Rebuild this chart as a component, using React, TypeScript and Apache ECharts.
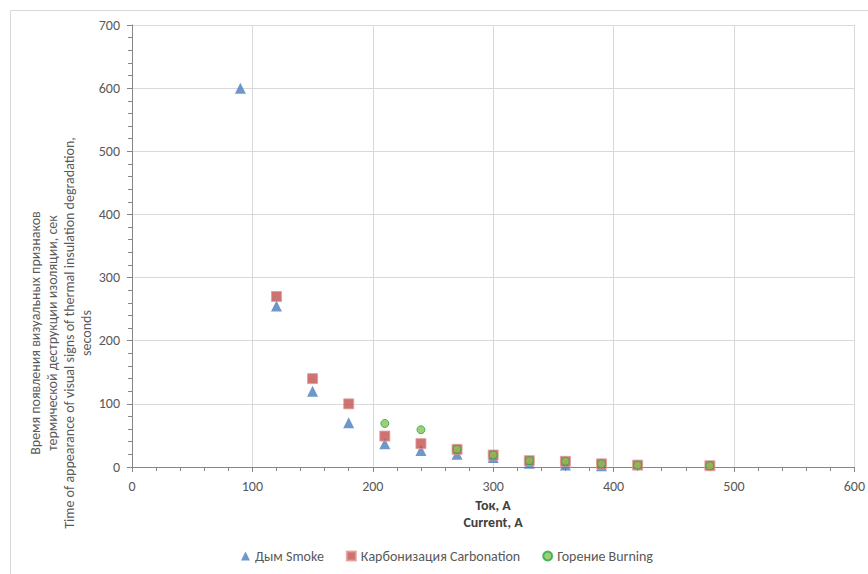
import React, { useEffect, useRef } from "react";
import * as echarts from "echarts";

const currentA = [90, 120, 150, 180, 210, 240, 270, 300, 330, 360, 390, 420, 480];
const smokeX = [90, 120, 150, 180, 210, 240, 270, 300, 330, 360, 390];
const smokeY = [600, 255, 120, 70, 37, 26, 20, 15, 6, 3, 2];
const carbX = [120, 150, 180, 210, 240, 270, 300, 330, 360, 390, 420, 480];
const carbY = [270, 140, 100, 49, 37, 28, 19, 10, 9, 5, 3, 2];
const burnX = [210, 240, 270, 300, 330, 360, 390, 420, 480];
const burnY = [69, 59, 28, 19, 10, 9, 5, 3, 2];

const seriesNames = ["Дым Smoke", "Карбонизация Carbonation", "Горение Burning"];
const xAxisTitle = "Ток, А\nCurrent, A";
const yAxisTitle =
  "Время появления визуальных признаков\nтермической деструкции изоляции, сек\nTime of appearance of visual signs of thermal insulation degradation,\nseconds";

const FONT = 'Carlito, Lato, "Open Sans", sans-serif';
const GRAY = "#595959";

function pairs(xs: number[], ys: number[]) {
  return xs.map((x, i) => [x, ys[i]]);
}

export default function App() {
  const ref = useRef<HTMLDivElement>(null);
  useEffect(() => {
    if (!ref.current) return;
    const chart = echarts.init(ref.current, undefined, { renderer: "svg" });
    void currentA;
    chart.setOption({
      animation: false,
      backgroundColor: "#ffffff",
      textStyle: { fontFamily: FONT },
      grid: { left: 132, right: 13, top: 25, bottom: 107, containLabel: false },
      xAxis: {
        type: "value",
        min: 0,
        max: 600,
        interval: 100,
        axisLine: { show: true, lineStyle: { color: "#868686", width: 1 } },
        axisTick: { show: true, inside: false, length: 5, lineStyle: { color: "#868686" } },
        minorTick: { show: true, splitNumber: 5, length: 4, lineStyle: { color: "#868686" } },
        splitLine: { show: true, lineStyle: { color: "#d9d9d9", width: 1 } },
        axisLabel: { color: GRAY, fontSize: 14, margin: 12, fontFamily: FONT },
      },
      yAxis: {
        type: "value",
        min: 0,
        max: 700,
        interval: 100,
        axisLine: { show: true, lineStyle: { color: "#868686", width: 1 } },
        axisTick: { show: true, inside: false, length: 5, lineStyle: { color: "#868686" } },
        minorTick: { show: true, splitNumber: 5, length: 4, lineStyle: { color: "#868686" } },
        splitLine: { show: true, lineStyle: { color: "#d9d9d9", width: 1 } },
        axisLabel: { color: GRAY, fontSize: 14, margin: 12, fontFamily: FONT },
      },
      legend: {
        bottom: 6,
        left: 236,
        itemWidth: 9,
        itemHeight: 9,
        itemGap: 22,
        textStyle: { color: GRAY, fontSize: 14, fontFamily: FONT },
        data: [
          { name: seriesNames[0], icon: "triangle" },
          { name: seriesNames[1], icon: "rect" },
          { name: seriesNames[2], icon: "circle" },
        ],
      },
      graphic: [
        {
          type: "rect",
          silent: true,
          shape: { x: 10.5, y: 10.5, width: 900, height: 700 },
          style: { fill: "none", stroke: "#d9d9d9", lineWidth: 1 },
          z: -1,
        },
        {
          type: "text",
          x: 493,
          y: 514,
          style: {
            text: xAxisTitle,
            fill: "#404040",
            font: `bold 14px ${FONT}`,
            textAlign: "center",
            textVerticalAlign: "middle",
            lineHeight: 17,
          },
        },
        {
          type: "text",
          x: 61,
          y: 333,
          rotation: Math.PI / 2,
          style: {
            text: yAxisTitle,
            fill: GRAY,
            font: `14px ${FONT}`,
            textAlign: "center",
            textVerticalAlign: "middle",
            lineHeight: 17,
          },
        },
      ],
      series: [
        {
          name: seriesNames[0],
          type: "scatter",
          symbol: "triangle",
          symbolSize: 11,
          itemStyle: { color: "#4a7ebb" },
          data: pairs(smokeX, smokeY),
          z: 2,
        },
        {
          name: seriesNames[1],
          type: "scatter",
          symbol: "rect",
          symbolSize: 10,
          itemStyle: { color: "#c0504d", borderColor: "#e39b99", borderWidth: 1 },
          data: pairs(carbX, carbY),
          z: 3,
        },
        {
          name: seriesNames[2],
          type: "scatter",
          symbol: "circle",
          symbolSize: 8,
          itemStyle: { color: "#8cc152", borderColor: "#1fab4b", borderWidth: 1 },
          data: pairs(burnX, burnY),
          z: 4,
        },
      ],
    });
    return () => chart.dispose();
  }, []);
  return (
    <div
      ref={ref}
      style={{ position: "absolute", left: 0, top: 0, width: 868, height: 574 }}
    />
  );
}
